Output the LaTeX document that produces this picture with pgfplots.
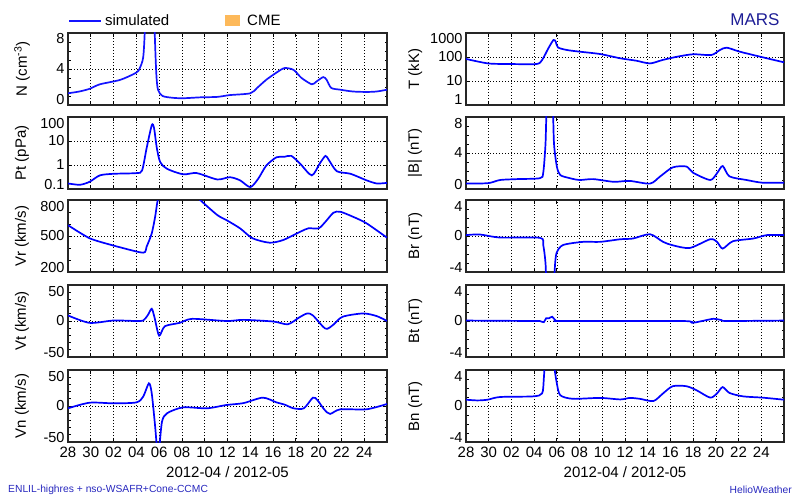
\documentclass[border=0pt]{standalone}
\usepackage{fontspec}
\setmainfont{Liberation Sans}
\usepackage{pgfplots}
\pgfplotsset{compat=1.18}
\definecolor{simblue}{RGB}{20,20,255}
\definecolor{cmeorange}{RGB}{253,185,90}
\definecolor{navy}{RGB}{30,30,150}
\definecolor{foot}{RGB}{40,40,190}
\newcommand{\tlab}[1]{\raisebox{0pt}[0pt][0pt]{\raisebox{-11pt}{#1}}}
\newcommand{\blab}[1]{\raisebox{0pt}[0pt][0pt]{#1}}
\pgfplotsset{
  panel/.style={scale only axis, height=72pt, xmin=0, xmax=28,
    xtick={0,2,...,26}, xticklabels={}, xtick pos=both, ytick pos=both,
    tick align=inside, major tick length=4pt, minor tick length=2.5pt,
    grid=major, major grid style={black, dash pattern=on 1pt off 2pt, line width=0.7pt},
    axis line style={line width=1.1pt, black!85}, tick style={black, line width=0.8pt},
    tick label style={font=\fontsize{14.5}{16}\selectfont},
    label style={font=\fontsize{15}{17}\selectfont},
    every axis plot/.append style={simblue, line width=1.7pt, smooth, tension=0.45, no markers}},
  leftp/.style={panel, width=319pt, ylabel style={at={(axis description cs:-0.144,0.5)}, anchor=center}},
  rightp/.style={panel, width=318pt, ylabel style={at={(axis description cs:-0.160,0.5)}, anchor=center}},
  bottomrow/.style={xticklabels={28,30,02,04,06,08,10,12,14,16,18,20,22,24},
    xticklabel style={yshift=-1.5pt, font=\fontsize{15}{16}\selectfont},
    xlabel={2012-04 / 2012-05},
    xlabel style={at={(axis description cs:0.5,0)}, anchor=center, yshift=-30pt}},
  simleg/.style={legend image code/.code={\draw[simblue, line width=1.7pt] (0pt,0pt) -- (32pt,0pt); \path[draw=none, fill=none] (0pt,0pt) -- (34pt,0pt);}},
  cmeleg/.style={legend image code/.code={\fill[cmeorange, draw=none] (0pt,-5.5pt) rectangle (15pt,5.5pt); \path[draw=none, fill=none] (0pt,0pt) -- (20pt,0pt);}},
}
\begin{document}
\begin{tikzpicture}
\path[use as bounding box] (0pt,0pt) rectangle (800pt,499pt);
% ---------- N ----------
\begin{axis}[leftp, at={(68pt,394pt)}, anchor=south west,
  ymin=0, ymax=8, ytick={0,4,8}, yticklabels={\blab{0},4,\tlab{8}}, minor y tick num=3,
  ylabel={N (cm\textsuperscript{-3})},
  legend style={draw=none, fill=none, inner sep=0pt, at={(axis description cs:0,1)}, anchor=west, yshift=12pt,
    font=\fontsize{15}{17}\selectfont, /tikz/every even column/.append style={column sep=54pt}},
  legend columns=2, legend cell align=left]
\addplot[forget plot] coordinates {(0,1.3)(1,1.5)(1.9,1.8)(2.8,2.3)(4.6,2.8)(6.0,3.6)(6.3,4.1)(6.6,5.3)(6.75,8.5)(6.95,16)(7.2,20)(7.45,16)(7.6,8.5)(7.75,3.5)(7.9,1.7)(8.3,1.0)(9.2,0.8)(10.1,0.75)(11.6,0.85)(13.1,0.9)(14.2,1.1)(16.0,1.3)(16.6,1.9)(17.4,2.8)(18.3,3.6)(19.0,4.1)(19.8,3.9)(20.5,3.0)(21.4,2.3)(21.8,2.6)(22.4,3.1)(22.7,2.8)(23.1,1.9)(23.9,1.7)(25.0,1.5)(26.2,1.45)(27.1,1.5)(28,1.7)};
\addlegendimage{simleg}
\addlegendentry{simulated}
\addlegendimage{cmeleg}
\addlegendentry{CME}
\end{axis}
% ---------- Pt ----------
\begin{axis}[leftp, at={(68pt,310pt)}, anchor=south west,
  ymode=log, ymin=0.1, ymax=100, ytick={0.1,1,10,100}, yticklabels={\blab{0.1},1,10,\tlab{100}}, yminorticks=false,
  ylabel={Pt (pPa)}]
\addplot coordinates {(0,0.17)(1.05,0.15)(1.9,0.2)(2.8,0.37)(4.0,0.43)(6.0,0.46)(6.5,0.59)(6.9,5)(7.35,45)(7.55,35)(7.8,5)(8.1,1.3)(8.7,0.69)(10.1,0.41)(11.3,0.46)(13.1,0.25)(14.2,0.31)(15.1,0.23)(16.0,0.12)(16.7,0.27)(17.4,0.94)(18.3,2.1)(19.0,2.2)(19.6,2.4)(20.4,1.1)(21.4,0.37)(22.1,1.16)(22.6,2.4)(22.9,1.6)(23.6,0.55)(24.8,0.43)(26.2,0.23)(27.1,0.17)(28,0.18)};
\end{axis}
% ---------- Vr ----------
\begin{axis}[leftp, at={(68pt,227pt)}, anchor=south west,
  ymin=200, ymax=800, ytick={200,500,800}, yticklabels={\blab{200},500,\tlab{800}}, minor y tick num=2,
  ylabel={Vr (km/s)}]
\addplot coordinates {(0,590)(1,530)(1.9,481)(2.8,452)(4.6,405)(6.6,361)(6.9,411)(7.35,522)(7.65,661)(7.85,786)(8.1,880)(9,950)(10,930)(11,860)(11.6,800)(13.1,675)(13.9,633)(15.1,564)(16.2,481)(17.7,444)(18.9,467)(20.4,536)(21.1,564)(22.0,564)(22.6,619)(23.3,694)(23.9,702)(25.0,661)(26.2,606)(28,486)};
\end{axis}
% ---------- Vt ----------
\begin{axis}[leftp, at={(68pt,142pt)}, anchor=south west,
  ymin=-50, ymax=50, ytick={-50,0,50}, yticklabels={\blab{-50},0,\tlab{50}}, minor y tick num=4,
  ylabel={Vt (km/s)}]
\addplot coordinates {(0,7.7)(1.9,-2.6)(4.0,0.7)(6.0,0)(6.6,0.7)(7.0,8)(7.35,17)(7.6,4.5)(8.0,-20.4)(8.5,-7.3)(9.8,-2.6)(10.9,3)(13.9,0)(15.4,1.6)(18.0,-0.7)(19.3,-4.5)(20.3,5)(21.0,10.5)(21.5,7.7)(22.6,-10.6)(23.3,-5)(24.1,5.9)(25.9,10.5)(27.1,6.8)(28,0)};
\end{axis}
% ---------- Vn ----------
\begin{axis}[leftp, bottomrow, at={(68pt,57pt)}, anchor=south west,
  ymin=-50, ymax=50, ytick={-50,0,50}, yticklabels={\blab{-50},0,\tlab{50}}, minor y tick num=4,
  ylabel={Vn (km/s)}]
\addplot coordinates {(0,-3.2)(1.9,4.6)(4.0,3.7)(6.0,5)(6.6,13)(7.1,31.5)(7.35,17.6)(7.65,-28.7)(7.85,-65)(8.0,-60)(8.25,-21.8)(8.7,-10)(10.1,-1.9)(12.2,-3.2)(13.9,1.4)(15.4,4)(17.1,11.6)(18.3,5)(19.0,2)(19.8,-3.2)(20.7,-3.2)(21.5,11.6)(21.9,8)(22.5,-5)(23.0,-11)(23.9,-4.6)(26.2,-4.6)(28,2.8)};
\end{axis}
% ---------- T ----------
\begin{axis}[rightp, at={(466pt,394pt)}, anchor=south west,
  ymode=log, ymin=1, ymax=1000, ytick={1,10,100,1000}, yticklabels={\blab{1},10,100,\tlab{1000}}, yminorticks=false,
  ylabel={T (kK)}]
\addplot coordinates {(0,83)(1.95,54)(3.9,51)(6.2,51)(6.7,75)(7.25,230)(7.7,510)(7.9,435)(8.1,250)(8.9,195)(10.0,167)(11.8,133)(13.6,88)(15.0,70)(16.2,54)(17.3,75)(18.6,103)(20.0,130)(21.6,121)(22.35,195)(22.95,245)(24.1,167)(25.9,103)(28,60)};
\end{axis}
% ---------- |B| ----------
\begin{axis}[rightp, at={(466pt,310pt)}, anchor=south west,
  ymin=0, ymax=8, ytick={0,4,8}, yticklabels={\blab{0},4,\tlab{8}}, minor y tick num=3,
  ylabel={|B| (nT)}]
\addplot coordinates {(0,0.6)(1.95,0.65)(3.0,1.0)(4.5,1.1)(6.5,1.2)(6.8,1.8)(7.0,5)(7.1,9)(7.4,15)(7.65,9)(7.75,5)(8.0,2.5)(8.3,1.55)(9.15,1.2)(10.0,1.0)(11.2,1.1)(13.0,0.8)(14.4,0.9)(16.2,0.6)(17.1,1.4)(18.2,2.4)(19.4,2.5)(20.0,1.8)(21.5,1.0)(22.1,1.75)(22.6,2.55)(23.2,1.4)(24.7,1.0)(26.1,0.7)(28,0.7)};
\end{axis}
% ---------- Br ----------
\begin{axis}[rightp, at={(466pt,227pt)}, anchor=south west,
  ymin=-4, ymax=4, ytick={-4,0,4}, yticklabels={\blab{-4},0,\tlab{4}}, minor y tick num=3,
  ylabel={Br (nT)}]
\addplot coordinates {(0,0.1)(1.2,0.17)(3.0,-0.17)(6.5,-0.2)(6.8,-1.0)(7.0,-3)(7.1,-6)(7.4,-9)(7.7,-6)(7.85,-3)(8.0,-1.8)(8.55,-1.0)(10.3,-0.65)(11.8,-0.65)(13.6,-0.36)(14.7,-0.28)(16.2,0.2)(17.35,-0.65)(18.2,-1.03)(19.7,-1.33)(21.5,-0.36)(22.1,-0.65)(22.6,-1.4)(23.5,-0.58)(25.3,-0.28)(26.5,0.1)(28,0.1)};
\end{axis}
% ---------- Bt ----------
\begin{axis}[rightp, at={(466pt,142pt)}, anchor=south west,
  ymin=-4, ymax=4, ytick={-4,0,4}, yticklabels={\blab{-4},0,\tlab{4}}, minor y tick num=3,
  ylabel={Bt (nT)}]
\addplot coordinates {(0,0.05)(6.0,0)(6.5,0)(6.85,-0.13)(7.05,0.3)(7.3,0.3)(7.6,0.47)(7.9,0.05)(8.5,0)(19.0,0)(19.9,-0.2)(20.8,0)(21.8,0.25)(22.5,0.1)(23.0,0)(28,0.05)};
\end{axis}
% ---------- Bn ----------
\begin{axis}[rightp, bottomrow, at={(466pt,57pt)}, anchor=south west,
  ymin=-4, ymax=4, ytick={-4,0,4}, yticklabels={\blab{-4},0,\tlab{4}}, minor y tick num=3,
  ylabel={Bn (nT)}]
\addplot coordinates {(0,0.7)(1.0,0.62)(1.9,0.7)(3.0,1.0)(5.9,1.07)(6.7,1.4)(6.85,3)(7.0,6)(7.3,9)(7.6,6)(7.75,4.5)(8.0,2.5)(8.3,1.2)(9.4,0.8)(11.8,0.9)(13.6,0.73)(14.4,0.9)(15.3,0.8)(16.5,0.55)(17.35,1.4)(18.2,2.2)(19.4,2.2)(20.3,1.75)(21.5,0.93)(22.1,1.4)(22.6,2.1)(23.2,1.45)(24.4,1.07)(26.1,0.93)(28,0.7)};
\end{axis}
\node[anchor=east, text=navy, font=\fontsize{17}{20}\selectfont] at (783pt,479pt) {MARS};
\node[anchor=west, text=foot, font=\fontsize{10.3}{12}\selectfont, inner sep=0pt] at (8pt,9pt) {ENLIL-highres + nso-WSAFR+Cone-CCMC};
\node[anchor=east, text=foot, font=\fontsize{10.3}{12}\selectfont, inner sep=0pt] at (792pt,9pt) {HelioWeather};
\end{tikzpicture}
\end{document}
